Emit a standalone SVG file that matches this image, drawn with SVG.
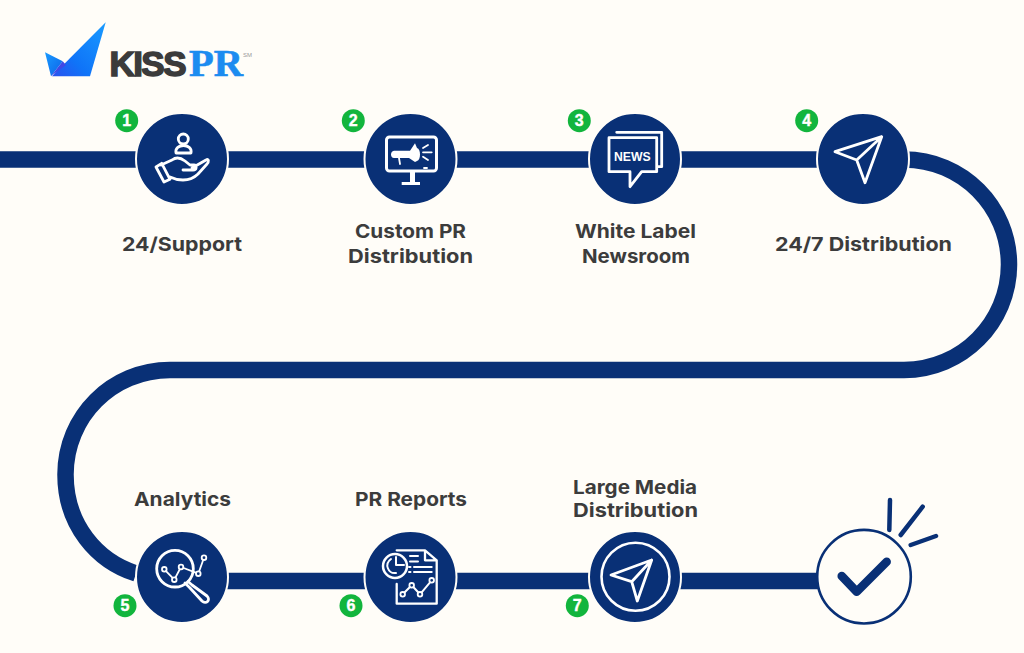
<svg xmlns="http://www.w3.org/2000/svg" width="1024" height="653" viewBox="0 0 1024 653">
<defs>
<linearGradient id="lg" x1="0" y1="1" x2="1" y2="0"><stop offset="0" stop-color="#2a50ee"/><stop offset=".35" stop-color="#0f74f8"/><stop offset="1" stop-color="#1a9bff"/></linearGradient>
<linearGradient id="lw" x1="0" y1="0" x2="1" y2="1"><stop offset="0" stop-color="#1a9bff"/><stop offset="1" stop-color="#0b62e8"/></linearGradient>
</defs>
<style>
.node{fill:#093076;stroke:#fffdf8;stroke-width:2}
.ic{fill:none;stroke:#fff;stroke-width:2.800;stroke-linejoin:round;stroke-linecap:round}
.thin{stroke-width:1.800}
.dot{fill:#093076;stroke:#fff;stroke-width:1.800}
.icf{fill:#fff}
.lb{font-family:"Inter","Liberation Sans",sans-serif;font-weight:700;font-size:19px;fill:#3c3c3c;text-anchor:middle}
.bd{fill:#12b53d}
.bt{font-family:"Liberation Sans",sans-serif;font-weight:700;font-size:16px;fill:#fff;stroke:#fff;stroke-width:.4;text-anchor:middle}
.track{fill:none;stroke:#093076;stroke-width:16.500}
</style>
<rect width="1024" height="653" fill="#fffdf8"/>
<g id="connectors">
<path class="track" d="M0 159.500H904C962 159.500 1009 206.500 1009 264.500S962 370 904 370H170C112 370 65.500 416.500 65.500 474.500C65.500 525 97 561 136 573.500"/>
<path class="track" d="M182 581H864"/>
</g>
<g id="logo">
<path d="M45 52.300L62.700 61.300L51 76.300Z" fill="url(#lw)"/>
<path d="M52 76.300L105.700 22.300L90 76.300Z" fill="url(#lg)"/>
<path d="M51 76.300L62.700 61.300L66 65Z" fill="#3f49e6"/>
<text x="109.500" y="75.700" font-family="'Liberation Sans',sans-serif" font-weight="700" font-size="35" fill="#3b3b3b" stroke="#3b3b3b" stroke-width="1.500" textLength="77" lengthAdjust="spacing">KISS</text>
<text x="189" y="75.700" font-family="'Liberation Serif',serif" font-weight="700" font-size="37" fill="#1c8cf0" stroke="#1c8cf0" stroke-width=".6" textLength="54" lengthAdjust="spacingAndGlyphs">PR</text>
<text x="243" y="57" font-family="'Liberation Sans',sans-serif" font-size="6" fill="#999">SM</text>
</g>
<g id="node-1">
<circle class="node" cx="182" cy="159" r="46"/>
<circle class="ic" cx="183.300" cy="139" r="5"/>
<path class="ic" d="M176 153C174 143 193 143 191 153Z"/>
<path class="ic" d="M156 167L161.700 163.300L170 179.300L164 182Z"/>
<path class="ic" d="M161 165L172 160C176 157 181 158 185 161L190 165H194C197 165 197 170 193 170H183M192 168L206 160C209 158 209 162 207 164L198 174C194 178 188 180 183 180C178 180 174 179 170 177"/>
<circle class="bd" cx="126.700" cy="120.700" r="11.500"/><text class="bt" x="126.700" y="126.300">1</text>
<text class="lb" x="182" y="251" textLength="120" lengthAdjust="spacingAndGlyphs">24/Support</text>
</g>
<g id="node-2">
<circle class="node" cx="410.500" cy="159" r="46"/>
<rect class="ic" x="386.500" y="137" width="50" height="34" rx="3" style="stroke-width:3"/>
<path class="icf" d="M410 172H415V182H420V185H401.700V182H410Z"/>
<path class="icf" d="M394 150.700H410L415 143.300L417 148C421 149 421 160 417 161L415 162L409 158H394C390 158 390 151 394 150.700Z"/>
<path class="ic thin" d="M399 158L400 164M423 148L428 145M423 152.300H431.700M423 156.700L428 160M424 168H427"/>
<circle class="bd" cx="353.300" cy="120.700" r="11.500"/><text class="bt" x="353.300" y="126.300">2</text>
<text class="lb" x="410.500" y="238" textLength="111" lengthAdjust="spacingAndGlyphs">Custom PR</text>
<text class="lb" x="410.500" y="263" textLength="125" lengthAdjust="spacingAndGlyphs">Distribution</text>
</g>
<g id="node-3">
<circle class="node" cx="635" cy="159" r="46"/>
<path class="ic" d="M616.700 132.300H661.700V166.700H656.700M609 137.700H656.700V171.700H641.700L630 186.700V171.700H609Z"/>
<text x="632.300" y="161" font-family="'Liberation Sans',sans-serif" font-weight="700" font-size="13" fill="#fff" text-anchor="middle" textLength="36.700" lengthAdjust="spacingAndGlyphs">NEWS</text>
<circle class="bd" cx="579.300" cy="120.700" r="11.500"/><text class="bt" x="579.300" y="126.300">3</text>
<text class="lb" x="635.500" y="238" textLength="121" lengthAdjust="spacingAndGlyphs">White Label</text>
<text class="lb" x="636" y="263" textLength="108" lengthAdjust="spacingAndGlyphs">Newsroom</text>
</g>
<g id="node-4">
<circle class="node" cx="863" cy="159" r="46"/>
<path class="ic" d="M881.700 136.700L835 151.700L856.700 160L865 182.700ZM881.700 136.700L856.700 160"/>
<circle class="bd" cx="806.700" cy="120.700" r="11.500"/><text class="bt" x="806.700" y="126.300">4</text>
<text class="lb" x="863.500" y="251" textLength="177" lengthAdjust="spacingAndGlyphs">24/7 Distribution</text>
</g>
<g id="node-5">
<circle class="node" cx="182" cy="577" r="46"/>
<circle class="ic" cx="175" cy="568.700" r="18.300"/>
<path class="ic" d="M188 581.500L192 585L207 596C211 600 206 605 202 601L190 588L185 583"/>
<path class="ic thin" d="M164.300 569.300L174.300 579.700L181 567L198.300 573.700L204 557.700"/>
<circle class="dot" cx="164.300" cy="569.300" r="2.300"/><circle class="dot" cx="174.300" cy="579.700" r="2.300"/><circle class="dot" cx="181" cy="567" r="2.300"/><circle class="dot" cx="198.300" cy="573.700" r="2.300"/><circle class="dot" cx="204" cy="557.700" r="2.300"/>
<circle class="bd" cx="125" cy="605.700" r="11.500"/><text class="bt" x="125" y="611.300">5</text>
<text class="lb" x="182.500" y="506" textLength="97" lengthAdjust="spacingAndGlyphs">Analytics</text>
</g>
<g id="node-6">
<circle class="node" cx="410.500" cy="577" r="46"/>
<path class="ic" style="stroke-width:2.300" d="M396.700 550.300H425L436.700 560.300V603.700H396.700V584M425 550.300V560.300H436.700"/>
<path class="ic" style="stroke-width:2" d="M410 556H418M410 561.500H418M409 567H410.500M414 567H431.700M409 572H410.500M414 572H431.700"/>
<path class="ic" style="stroke-width:2" d="M402.700 594.300L411.700 585.300L420 594.300L431.700 580.300"/>
<circle class="dot" cx="402.700" cy="594.300" r="2.300"/><circle class="dot" cx="411.700" cy="585.300" r="2.300"/><circle class="dot" cx="420" cy="594.300" r="2.300"/><circle class="dot" cx="431.700" cy="580.300" r="2.300"/>
<circle cx="395" cy="566" r="12" fill="#093076" stroke="#fff" stroke-width="2.500"/>
<path class="ic" style="stroke-width:2" d="M396 557V565H404M391 559C384 564 388 574 396 573"/>
<circle class="bd" cx="351" cy="605.700" r="11.500"/><text class="bt" x="351" y="611.300">6</text>
<text class="lb" x="411" y="506" textLength="112" lengthAdjust="spacingAndGlyphs">PR Reports</text>
</g>
<g id="node-7">
<circle class="node" cx="635" cy="577" r="46"/>
<circle class="ic" cx="635.500" cy="576.700" r="34" style="stroke-width:2.600"/>
<path class="ic" d="M651.700 560L611 575L631.700 581.700L637.300 601ZM651.700 560L631.700 581.700"/>
<circle class="bd" cx="577.300" cy="605.700" r="11.500"/><text class="bt" x="577.300" y="611.300">7</text>
<text class="lb" x="635" y="494" textLength="124" lengthAdjust="spacingAndGlyphs">Large Media</text>
<text class="lb" x="635.500" y="517" textLength="125" lengthAdjust="spacingAndGlyphs">Distribution</text>
</g>
<g id="node-8">
<circle cx="864" cy="576.700" r="46.800" fill="#fffdf8" stroke="#093076" stroke-width="2.600"/>
<path d="M841.700 576L856.700 591.700L886.700 561.700" fill="none" stroke="#093076" stroke-width="8.500" stroke-linecap="round" stroke-linejoin="round"/>
<path d="M890 500L889.300 530M922.700 506.700L900.700 535M936 536L910.700 545" fill="none" stroke="#093076" stroke-width="4.500" stroke-linecap="round"/>
</g>
</svg>
